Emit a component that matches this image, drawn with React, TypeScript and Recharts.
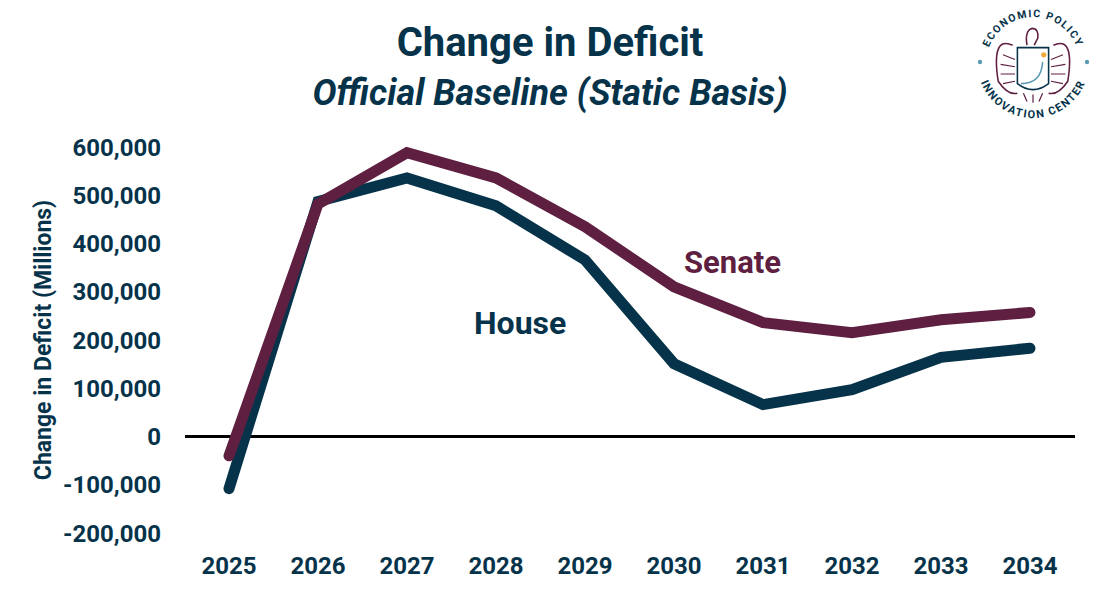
import { Label, Line, LineChart, ReferenceLine, XAxis, YAxis } from "recharts";

const years = ["2025", "2026", "2027", "2028", "2029", "2030", "2031", "2032", "2033", "2034"];
const house = [-108000, 487000, 536000, 478000, 366000, 151000, 66000, 97000, 164000, 183000];
const senate = [-40000, 482000, 588000, 536000, 435000, 310000, 236000, 215000, 242000, 257000];
const yTicks = [-200000, -100000, 0, 100000, 200000, 300000, 400000, 500000, 600000];

const NAVY = "#06334a";
const MAROON = "#5e1f40";
const FONT = "Roboto, 'Noto Sans', sans-serif";

const data = years.map((year, i) => ({ year, house: house[i], senate: senate[i] }));

const fmt = (v: number) => v.toLocaleString("en-US");

const YLabel = ({ viewBox }: any) => {
  const x = viewBox.x + 25;
  const y = viewBox.y + viewBox.height / 2;
  return (
    <text
      x={x}
      y={y}
      transform={`rotate(-90 ${x} ${y})`}
      textAnchor="middle"
      dominantBaseline="middle"
      fill={NAVY}
      fontSize={23}
      fontWeight={700}
      fontFamily={FONT}
    >
      Change in Deficit (Millions)
    </text>
  );
};

const Logo = () => (
  <svg width={132} height={130} style={{ position: "absolute", left: 967, top: 0 }}>
    <defs>
      <path id="arcTop" d="M 19 64 A 47 47 0 0 1 113 64" />
      <path id="arcBottom" d="M 10 62 A 56 56 0 0 0 122 62" />
    </defs>
    <text fontSize={10.5} fontWeight={700} fill={NAVY} letterSpacing={1.4} fontFamily={FONT}>
      <textPath href="#arcTop" startOffset="50%" textAnchor="middle">
        ECONOMIC POLICY
      </textPath>
    </text>
    <text fontSize={11} fontWeight={700} fill={NAVY} letterSpacing={1.5} fontFamily={FONT}>
      <textPath href="#arcBottom" startOffset="50%" textAnchor="middle">
        INNOVATION CENTER
      </textPath>
    </text>
    <circle cx={13} cy={62} r={2.2} fill="#5b9bb5" />
    <circle cx={120} cy={62} r={2.2} fill="#5b9bb5" />
    {/* simplified eagle */}
    <g transform="translate(66 62) scale(1.2) translate(-65 -62)">
      <path d="M 48 48 Q 30 40 36 78 Q 44 90 52 88" fill="none" stroke={MAROON} strokeWidth={1.3} />
      <path d="M 82 48 Q 100 40 94 78 Q 86 90 78 88" fill="none" stroke={MAROON} strokeWidth={1.3} />
      <path
        d="M 40 56 L 50 60 M 38 64 L 50 66 M 38 72 L 50 72 M 40 80 L 50 78 M 90 56 L 80 60 M 92 64 L 80 66 M 92 72 L 80 72 M 90 80 L 80 78"
        stroke={MAROON}
        strokeWidth={0.9}
      />
      <path d="M 60 48 Q 58 36 64 34 Q 70 34 69 42 L 66 48" fill="none" stroke={MAROON} strokeWidth={1.3} />
      <path d="M 52 50 L 78 50 L 78 80 Q 65 90 52 80 Z" fill="#fff" stroke={NAVY} strokeWidth={1.3} />
      <path d="M 55 80 Q 72 80 73 62" fill="none" stroke="#5b9bb5" strokeWidth={1.3} />
      <circle cx={74} cy={56} r={2.2} fill="#f2a93b" />
      <path d="M 57 88 L 60 95 M 65 89 L 65 96 M 73 88 L 70 95" stroke={MAROON} strokeWidth={1} />
    </g>
  </svg>
);

export default function App() {
  return (
    <div
      style={{
        position: "absolute",
        left: 0,
        top: 0,
        width: 1100,
        height: 597,
        background: "#fff",
        fontFamily: FONT,
      }}
    >
      <div
        style={{
          position: "absolute",
          left: 0,
          width: 1100,
          top: 18,
          textAlign: "center",
          color: NAVY,
          fontWeight: 700,
          fontSize: 40,
          lineHeight: "50px",
        }}
      >
        Change in Deficit
      </div>
      <div
        style={{
          position: "absolute",
          left: 0,
          width: 1100,
          top: 70,
          textAlign: "center",
          color: NAVY,
          fontWeight: 700,
          fontStyle: "italic",
          fontSize: 36,
          lineHeight: "46px",
        }}
      >
        Official Baseline (Static Basis)
      </div>
      <Logo />
      <div style={{ position: "absolute", left: 0, top: 0 }}>
        <LineChart
          width={1100}
          height={597}
          data={data}
          margin={{ top: 147, right: 25, bottom: 24, left: 20 }}
        >
          <XAxis
            dataKey="year"
            axisLine={false}
            tickLine={false}
            tickSize={0}
            tickMargin={24}
            padding={{ left: 44, right: 45 }}
            tick={{ fill: NAVY, fontSize: 24, fontWeight: 700, fontFamily: FONT }}
            height={40}
          />
          <YAxis
            domain={[-200000, 600000]}
            ticks={yTicks}
            tickFormatter={fmt}
            axisLine={false}
            tickLine={false}
            tickSize={0}
            tickMargin={24}
            width={165}
            interval={0}
            tick={{ fill: NAVY, fontSize: 24, fontWeight: 700, fontFamily: FONT }}
          >
            <Label content={<YLabel />} />
          </YAxis>
          <ReferenceLine y={0} stroke="#000" strokeWidth={3} />
          <Line
            dataKey="house"
            stroke={NAVY}
            strokeWidth={11}
            strokeLinecap="round"
            dot={false}
            activeDot={false}
            isAnimationActive={false}
          />
          <Line
            dataKey="senate"
            stroke={MAROON}
            strokeWidth={11}
            strokeLinecap="round"
            dot={false}
            activeDot={false}
            isAnimationActive={false}
          />
        </LineChart>
      </div>
      <div
        style={{
          position: "absolute",
          left: 684,
          top: 244,
          color: MAROON,
          fontSize: 31,
          fontWeight: 700,
        }}
      >
        Senate
      </div>
      <div
        style={{
          position: "absolute",
          left: 474,
          top: 304,
          color: NAVY,
          fontSize: 32,
          fontWeight: 700,
        }}
      >
        House
      </div>
    </div>
  );
}
